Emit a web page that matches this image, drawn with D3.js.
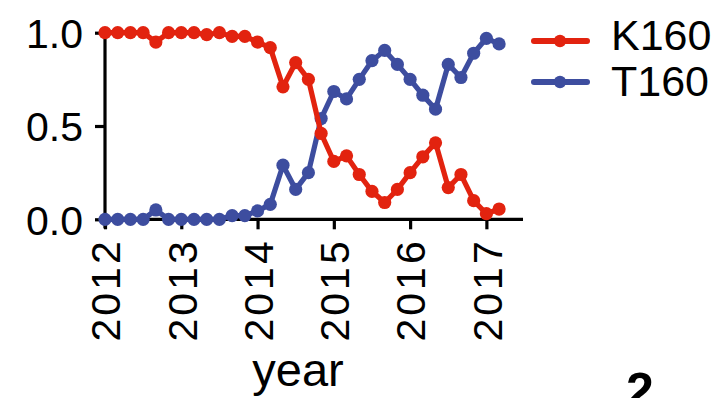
<!DOCTYPE html>
<html>
<head>
<meta charset="utf-8">
<script src="https://cdn.jsdelivr.net/npm/d3@7"></script>
<style>
  html, body { margin: 0; padding: 0; background: #fff; }
  svg { display: block; }
  text { font-family: "Liberation Sans", Arial, Helvetica, sans-serif; fill: #000; }
</style>
</head>
<body>
<svg id="chart" width="725" height="398"></svg>
<script>
// sample dates (bimonthly)
const months = [
  "2012-01","2012-03","2012-05","2012-07","2012-09","2012-11",
  "2013-01","2013-03","2013-05","2013-07","2013-09","2013-11",
  "2014-01","2014-03","2014-05","2014-07","2014-09","2014-11",
  "2015-01","2015-03","2015-05","2015-07","2015-09","2015-11",
  "2016-01","2016-03","2016-05","2016-07","2016-09","2016-11",
  "2017-01","2017-03"
];
const K160 = [1.00,1.00,1.00,1.00,0.95,1.00,1.00,1.00,0.99,1.00,0.98,0.98,
              0.95,0.92,0.71,0.84,0.75,0.46,0.31,0.34,0.24,0.15,0.09,0.16,
              0.25,0.335,0.41,0.17,0.24,0.10,0.03,0.055];
const T160 = [0.00,0.00,0.00,0.00,0.05,0.00,0.00,0.00,0.00,0.00,0.02,0.02,
              0.045,0.08,0.29,0.16,0.25,0.54,0.685,0.645,0.75,0.85,0.905,0.83,
              0.75,0.665,0.59,0.83,0.76,0.89,0.97,0.94];
const seriesNames = ["K160","T160"];
const seriesColors = ["#e2230f","#3d4d9f"];
const yTicks = [0, 0.5, 1.0];
const xTicks = [2012, 2013, 2014, 2015, 2016, 2017];
const xTitle = "year";

const toYear = s => { const [y, m] = s.split("-").map(Number); return y + (m - 1) / 12; };
const times = months.map(toYear);

const svg = d3.select("#chart");
const x = d3.scaleLinear().domain([2012, 2017.48]).range([105, 523]);
const y = d3.scaleLinear().domain([0, 1]).range([219.3, 32.7]);

// Y axis
const yAxis = d3.axisLeft(y).tickValues(yTicks).tickFormat(d3.format(".1f")).tickSize(10).tickPadding(12);
const gy = svg.append("g").attr("transform", `translate(${x(2012)},0)`).call(yAxis);
gy.select(".domain").attr("d", `M-0,${y(1)}V${y(0) + 9}`).attr("stroke", "#000").attr("stroke-width", 3.2);
gy.selectAll(".tick line").attr("stroke", "#000").attr("stroke-width", 3.2);
gy.selectAll(".tick text").style("font-size", "41px").attr("dy", "0.36em");

// X axis
const xAxis = d3.axisBottom(x).tickValues(xTicks).tickFormat(d3.format("d")).tickSize(10);
const gx = svg.append("g").attr("transform", `translate(0,${y(0)})`).call(xAxis);
gx.select(".domain").attr("d", `M${x(2012)},0H${x.range()[1]}`).attr("stroke", "#000").attr("stroke-width", 3.2);
gx.selectAll(".tick line").attr("stroke", "#000").attr("stroke-width", 3.2);
gx.selectAll(".tick text")
  .style("font-size", "41px")
  .style("letter-spacing", "3px")
  .attr("text-anchor", "end")
  .attr("transform", "rotate(-90)")
  .attr("x", -19)
  .attr("y", 0)
  .attr("dy", "0.36em");

svg.append("text").attr("x", 298).attr("y", 386).attr("text-anchor", "middle")
  .style("font-size", "47px").text(xTitle);

// Series (blue first, red on top)
const data = [K160, T160];
const line = d3.line().x((d, i) => x(times[i])).y(d => y(d));
[1, 0].forEach(si => {
  const g = svg.append("g");
  g.append("path").datum(data[si]).attr("d", line)
    .attr("fill", "none").attr("stroke", seriesColors[si]).attr("stroke-width", 5.2)
    .attr("stroke-linejoin", "round");
  g.selectAll("circle").data(data[si]).join("circle")
    .attr("cx", (d, i) => x(times[i])).attr("cy", d => y(d)).attr("r", 6.6)
    .attr("fill", seriesColors[si]);
});

// Legend
const legY = [41, 82];
const legTextY = [50, 96];
seriesNames.forEach((n, i) => {
  svg.append("line").attr("x1", 534).attr("x2", 587).attr("y1", legY[i]).attr("y2", legY[i])
    .attr("stroke", seriesColors[i]).attr("stroke-width", 6).attr("stroke-linecap", "round");
  svg.append("circle").attr("cx", 560).attr("cy", legY[i]).attr("r", 6.2).attr("fill", seriesColors[i]);
  svg.append("text").attr("x", 611).attr("y", legTextY[i]).style("font-size", "43px").text(n);
});

// panel label of the next panel, cut off at the bottom edge as in the reference
svg.append("text").attr("x", 626).attr("y", 408).style("font-size", "50px").style("font-weight", "bold").text("2");
</script>
</body>
</html>
